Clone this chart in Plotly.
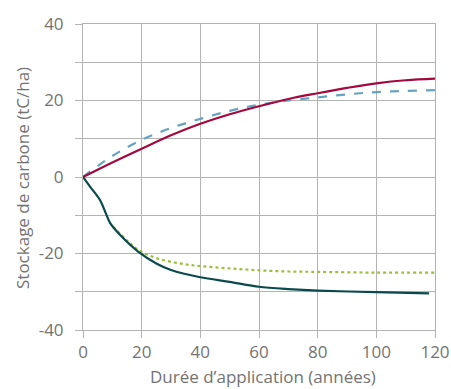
import plotly.graph_objects as go

# Red solid series
red_x = [0, 10, 20, 30, 40, 50, 60, 70, 80, 90, 100, 110, 120]
red_y = [0, 3.8, 7.4, 10.9, 13.9, 16.4, 18.5, 20.4, 21.9, 23.3, 24.5, 25.3, 25.7]
# Blue dashed series
blue_x = [0, 10, 20, 30, 40, 50, 60, 70, 80, 90, 100, 110, 120]
blue_y = [0, 5.5, 9.7, 12.8, 15.2, 17.3, 18.9, 20.0, 20.8, 21.6, 22.2, 22.5, 22.7]
# Dark teal solid series
teal_x = [0, 2.4, 5.8, 8, 9.2, 12.6, 18.8, 25, 30, 40, 50, 60, 70, 80, 100, 118]
teal_y = [0, -2.5, -6.0, -9.9, -12.0, -15.1, -19.5, -22.6, -24.3, -26.2, -27.4, -28.7, -29.3, -29.7, -30.1, -30.4]
# Green dotted series
green_x = [10.3, 15, 19, 25, 33, 40, 50, 60, 70, 80, 100, 120]
green_y = [-13.0, -16.6, -19.1, -21.2, -22.6, -23.3, -23.9, -24.4, -24.7, -24.8, -25.0, -25.0]

x_ticks = [0, 20, 40, 60, 80, 100, 120]
y_ticks = [-40, -30, -20, -10, 0, 10, 20, 30, 40]
y_ticktext = ["-40", "", "-20", "", "0", "", "20", "", "40"]

fig = go.Figure()
fig.add_trace(go.Scatter(x=blue_x, y=blue_y, mode="lines", hoverinfo="skip",
                         line=dict(color="#65a3c0", width=2.2, dash="dash", shape="spline")))
fig.add_trace(go.Scatter(x=red_x, y=red_y, mode="lines", hoverinfo="skip",
                         line=dict(color="#a3093d", width=2.2, shape="spline")))
fig.add_trace(go.Scatter(x=green_x, y=green_y, mode="lines", hoverinfo="skip",
                         line=dict(color="#9dc03c", width=2.2, dash="dot", shape="spline")))
fig.add_trace(go.Scatter(x=teal_x, y=teal_y, mode="lines", hoverinfo="skip",
                         line=dict(color="#0b4a4c", width=2.2, shape="spline", smoothing=0.8)))

grid = "#b3b3b3"
L, R, T, B = 83, 16, 24, 59
W, H = 451, 389
pw, ph = W - L - R, H - T - B
fig.update_layout(
    width=W, height=H,
    margin=dict(l=L, r=R, t=T, b=B),
    paper_bgcolor="white", plot_bgcolor="white",
    showlegend=False,
    font=dict(family="Open Sans", size=17, color="#737373"),
    xaxis=dict(range=[0, 120], tickvals=x_ticks, showgrid=True, gridcolor=grid, gridwidth=1,
               zeroline=False, showline=True, mirror=True, linecolor=grid, linewidth=1,
               ticks="outside", ticklen=7, tickcolor=grid, automargin=False,
               tickfont=dict(size=17)),
    yaxis=dict(range=[-40, 40], tickvals=y_ticks, ticktext=y_ticktext, showgrid=True,
               gridcolor=grid, gridwidth=1, zeroline=False, showline=True, mirror=True,
               linecolor=grid, linewidth=1, ticks="outside", ticklen=7, tickcolor=grid,
               automargin=False, tickfont=dict(size=17), ticklabelstandoff=8),
    annotations=[
        dict(text="Durée d’application (années)", xref="paper", yref="paper",
             x=(263 - L) / pw, y=(T + ph - 377) / ph, showarrow=False,
             xanchor="center", yanchor="middle", font=dict(size=17, color="#737373")),
        dict(text="Stockage de carbone (tC/ha)", xref="paper", yref="paper",
             x=(22 - L) / pw, y=(T + ph - 178) / ph, showarrow=False, textangle=-90,
             xanchor="center", yanchor="middle", font=dict(size=17, color="#737373")),
    ],
)
fig.write_html("out.html", config={"displayModeBar": False},
               post_script="document.body.style.margin='0';")
